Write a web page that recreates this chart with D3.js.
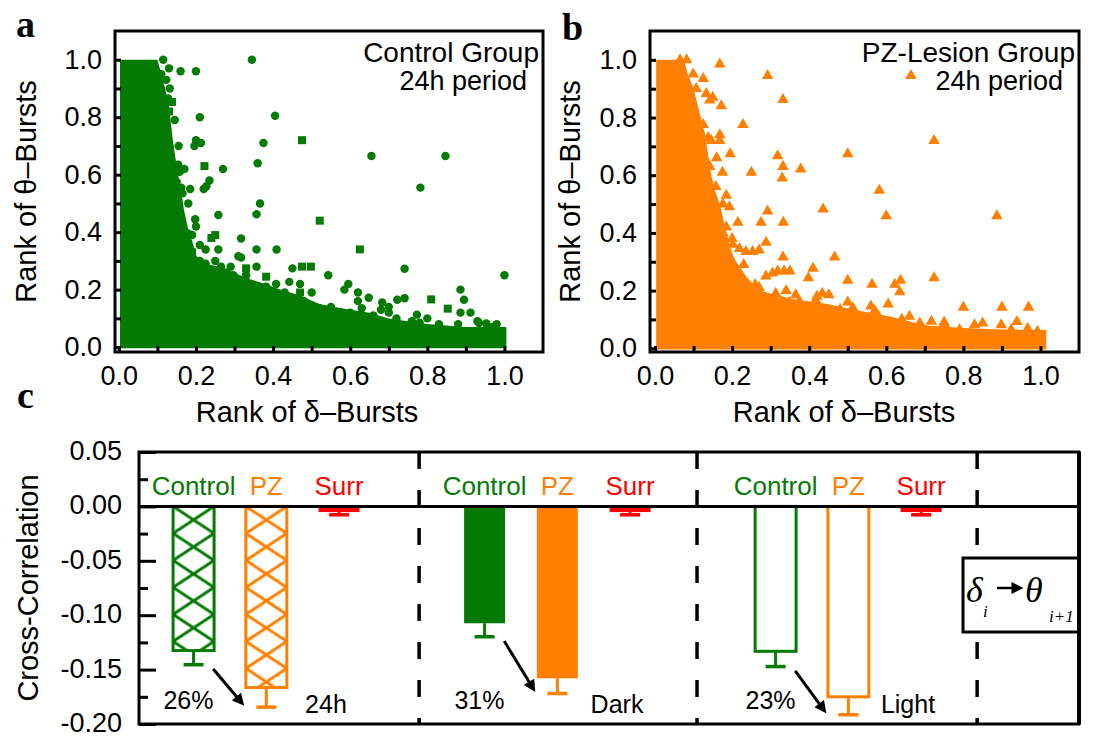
<!DOCTYPE html>
<html>
<head>
<meta charset="utf-8">
<script src="https://cdn.jsdelivr.net/npm/d3@7"></script>
<style>
  body { margin: 0; background: #fff; }
  svg { display: block; }
  text { font-family: "Liberation Sans", Arial, sans-serif; }
</style>
</head>
<body>
<div id="chart"></div>
<script>
// ---- panel a : control group, rank of delta vs rank of theta bursts ----
// top edge of the dense cloud [x, y]
const ctrlEnvelope = [
  [0.003, 1.0], [0.1, 1.0], [0.11, 0.95], [0.12, 0.9], [0.13, 0.84], [0.14, 0.72],
  [0.15, 0.63], [0.16, 0.55], [0.17, 0.47], [0.18, 0.41], [0.19, 0.37], [0.2, 0.32],
  [0.22, 0.29], [0.26, 0.28], [0.3, 0.26], [0.33, 0.24], [0.38, 0.22], [0.42, 0.2],
  [0.47, 0.18], [0.52, 0.15], [0.56, 0.14], [0.6, 0.13], [0.65, 0.12], [0.7, 0.1],
  [0.75, 0.09], [0.8, 0.08], [0.85, 0.075], [0.9, 0.07], [1.005, 0.07]
];
const ctrlCircles = [
  [0.115, 1.0], [0.13, 0.97], [0.16, 0.96], [0.2, 0.96], [0.345, 1.0], [0.21, 0.8],
  [0.405, 0.805], [0.375, 0.71], [0.2, 0.72], [0.196, 0.7], [0.213, 0.71], [0.655, 0.665],
  [0.847, 0.665], [0.36, 0.64], [0.27, 0.62], [0.235, 0.58], [0.227, 0.56], [0.22, 0.55],
  [0.782, 0.555], [0.18, 0.5], [0.366, 0.5], [0.357, 0.462], [0.258, 0.46], [0.198, 0.445],
  [0.18, 0.395], [0.19, 0.39], [0.317, 0.378], [0.21, 0.355], [0.258, 0.34], [0.357, 0.34],
  [0.409, 0.34], [0.317, 0.312], [0.741, 0.273], [0.357, 0.28], [0.45, 0.274], [0.543, 0.25],
  [1.0, 0.25], [0.595, 0.22], [0.886, 0.2], [0.585, 0.2], [0.62, 0.19], [0.741, 0.17],
  [0.722, 0.165], [0.895, 0.165], [0.886, 0.12], [0.912, 0.12], [0.773, 0.113], [0.7, 0.12],
  [0.683, 0.155], [0.648, 0.172], [0.953, 0.082], [0.934, 0.084], [0.88, 0.08], [0.47, 0.22],
  [0.442, 0.227], [0.408, 0.22], [0.382, 0.21], [0.356, 0.21], [0.497, 0.13], [0.45, 0.15],
  [0.425, 0.165], [0.4, 0.18], [0.31, 0.316], [0.29, 0.28], [0.265, 0.28], [0.297, 0.25],
  [0.33, 0.23], [0.265, 0.21], [0.21, 0.3], [0.184, 0.31], [0.175, 0.33], [0.132, 0.9],
  [0.123, 0.93], [0.11, 0.95], [0.097, 0.96], [0.09, 0.94], [0.128, 0.865], [0.115, 0.82],
  [0.132, 0.64], [0.154, 0.635], [0.158, 0.61], [0.14, 0.6], [0.123, 0.58], [0.15, 0.575],
  [0.162, 0.555], [0.165, 0.535], [0.14, 0.51], [0.154, 0.51], [0.123, 0.5], [0.132, 0.48],
  [0.158, 0.455], [0.14, 0.445], [0.136, 0.42], [0.123, 0.746], [0.102, 0.723], [0.115, 0.7],
  [0.11, 0.665], [0.106, 0.77], [0.119, 0.8], [0.158, 0.395], [0.175, 0.395],
  [0.6, 0.12], [0.66, 0.11], [0.72, 0.1], [0.78, 0.085], [0.83, 0.08], [0.97, 0.07],
  [0.55, 0.14], [0.52, 0.135], [0.63, 0.135], [0.68, 0.13], [0.76, 0.09], [0.24, 0.27],
  [0.28, 0.26], [0.33, 0.25], [0.38, 0.2], [0.43, 0.19], [0.48, 0.16], [0.225, 0.29], [0.25, 0.3],
  [0.145, 0.79], [0.155, 0.7], [0.17, 0.62], [0.185, 0.55], [0.2, 0.42], [0.225, 0.34],
  [0.62, 0.16], [0.7, 0.14], [0.8, 0.1], [0.93, 0.09], [0.98, 0.08], [0.5, 0.19]
];
const ctrlSquares = [
  [0.475, 0.72], [0.222, 0.63], [0.521, 0.44], [0.625, 0.34], [0.475, 0.28], [0.498, 0.28],
  [0.33, 0.274], [0.382, 0.245], [0.81, 0.166], [0.853, 0.134], [0.138, 0.853], [0.25, 0.39],
  [0.24, 0.38], [0.47, 0.19], [0.19, 0.33], [0.13, 0.82]
];

// ---- panel b : PZ-lesion group ----
const pzEnvelope = [
  [0.003, 1.0], [0.075, 1.0], [0.085, 0.95], [0.1, 0.9], [0.115, 0.82], [0.13, 0.74],
  [0.14, 0.65], [0.15, 0.57], [0.17, 0.49], [0.185, 0.4], [0.2, 0.33], [0.21, 0.3],
  [0.236, 0.25], [0.27, 0.2], [0.3, 0.19], [0.36, 0.17], [0.44, 0.155], [0.53, 0.13],
  [0.61, 0.11], [0.64, 0.1], [0.7, 0.08], [0.8, 0.07], [0.9, 0.065], [1.015, 0.063]
];
const pzTriangles = [
  [0.168, 0.985], [0.292, 0.945], [0.664, 0.945], [0.332, 0.862], [0.228, 0.775], [0.724, 0.72],
  [0.5, 0.674], [0.195, 0.674], [0.318, 0.667], [0.332, 0.63], [0.33, 0.59], [0.378, 0.621],
  [0.25, 0.61], [0.175, 0.61], [0.582, 0.547], [0.436, 0.482], [0.292, 0.475], [0.6, 0.459],
  [0.887, 0.459], [0.333, 0.436], [0.275, 0.436], [0.215, 0.436], [0.288, 0.367], [0.185, 0.53],
  [0.193, 0.49], [0.176, 0.5], [0.466, 0.316], [0.332, 0.316], [0.41, 0.277], [0.35, 0.267],
  [0.335, 0.267], [0.318, 0.267], [0.398, 0.244], [0.5, 0.235], [0.563, 0.221], [0.724, 0.244],
  [0.637, 0.235], [0.622, 0.221], [0.635, 0.195], [0.605, 0.153], [0.8, 0.142], [0.9, 0.142],
  [0.969, 0.142], [0.939, 0.092], [0.56, 0.146], [0.513, 0.14], [0.48, 0.135], [0.434, 0.19],
  [0.451, 0.185], [0.417, 0.167], [0.365, 0.185], [0.374, 0.163], [0.348, 0.158], [0.27, 0.34],
  [0.253, 0.335], [0.236, 0.335], [0.219, 0.345], [0.202, 0.36], [0.176, 0.4], [0.185, 0.42],
  [0.142, 0.445], [0.125, 0.46], [0.15, 0.4], [0.305, 0.26], [0.288, 0.25], [0.313, 0.19],
  [0.27, 0.21], [0.245, 0.19], [0.099, 0.95], [0.125, 0.935], [0.107, 0.9], [0.133, 0.883],
  [0.142, 0.86], [0.15, 0.87], [0.172, 0.84], [0.107, 0.79], [0.125, 0.775], [0.116, 0.752],
  [0.138, 0.73], [0.168, 0.74], [0.168, 0.72], [0.146, 0.72], [0.099, 0.677], [0.125, 0.665],
  [0.107, 0.63], [0.142, 0.63], [0.138, 0.585], [0.116, 0.56], [0.065, 1.0], [0.082, 1.0],
  [0.687, 0.087], [0.717, 0.093], [0.752, 0.081], [0.79, 0.064], [0.829, 0.081], [0.85, 0.087],
  [0.898, 0.081], [0.924, 0.064], [0.967, 0.069], [0.992, 0.058], [0.22, 0.26], [0.2, 0.3],
  [0.26, 0.22], [0.4, 0.14], [0.45, 0.13], [0.52, 0.12], [0.58, 0.11], [0.64, 0.1],
  [0.16, 0.66], [0.158, 0.56], [0.2, 0.38], [0.23, 0.29], [0.34, 0.2], [0.42, 0.18],
  [0.5, 0.16], [0.57, 0.13], [0.66, 0.11], [0.75, 0.09]
];

const rankTicks = [0, 0.1, 0.2, 0.3, 0.4, 0.5, 0.6, 0.7, 0.8, 0.9, 1.0];
const rankLabels = ["0.0", "", "0.2", "", "0.4", "", "0.6", "", "0.8", "", "1.0"];

// ---- panel c : cross-correlation delta_i -> theta_i+1 ----
const periods = ["24h", "Dark", "Light"];
const seriesNames = ["Control", "PZ", "Surr"];
const barPos = [1, 2, 3, 5, 6, 7, 9, 10, 11];
const barVals = [-0.1325, -0.1665, -0.0052, -0.1074, -0.158, -0.0052, -0.1332, -0.175, -0.0052];
const barErr = [0.013, 0.018, 0.0025, 0.0124, 0.014, 0.0025, 0.014, 0.0165, 0.0025];
const pctLabels = ["26%", "31%", "23%"];
const dividers = [4.1, 7.92, 11.77];
const corrTicks = [-0.2, -0.15, -0.1, -0.05, 0, 0.05];
const corrLabels = ["-0.20", "-0.15", "-0.10", "-0.05", "0.00", "0.05"];
const corrMinor = [-0.175, -0.125, -0.075, -0.025, 0.025];

const GREEN = "#057a05", ORANGE = "#ff8000", RED = "#ff0000";
const colors = [GREEN, ORANGE, RED];

const svg = d3.select("#chart").append("svg")
  .attr("width", 1093)
  .attr("height", 736);
const defs = svg.append("defs");

function styleAxis(g, fs) {
  g.select(".domain").remove();
  g.selectAll(".tick line").attr("stroke", "#000").attr("stroke-width", 3);
  g.selectAll(".tick text").attr("fill", "#000").style("font-size", fs + "px");
}

function scatterPanel(o) {
  let x = d3.scaleLinear().domain([o.x0, 1.1]).range([o.left, o.right]);
  let y = d3.scaleLinear().domain([o.y0, 1.1]).range([o.bottom, o.top]);
  let g = svg.append("g");

  // dense cloud
  g.append("path")
    .datum(o.env)
    .attr("fill", o.color)
    .attr("d", d3.area().x(d => x(d[0])).y0(y(-0.004)).y1(d => y(d[1])));

  // single points
  o.marks.forEach(m => {
    g.append("g").selectAll("path")
      .data(m.data)
      .enter()
      .append("path")
      .attr("transform", d => "translate(" + x(d[0]) + "," + y(d[1]) + ")")
      .attr("d", d3.symbol().type(m.type).size(m.size))
      .attr("fill", o.color);
  });

  let ax = g.append("g")
    .attr("transform", "translate(0," + o.bottom + ")")
    .call(d3.axisBottom(x).tickValues(rankTicks).tickSize(-6).tickPadding(14)
      .tickFormat((d, i) => rankLabels[i]));
  styleAxis(ax, 27);
  let ay = g.append("g")
    .attr("transform", "translate(" + o.left + ",0)")
    .call(d3.axisLeft(y).tickValues(rankTicks).tickSize(-6).tickPadding(13)
      .tickFormat((d, i) => rankLabels[i]));
  styleAxis(ay, 27);

  g.append("rect")
    .attr("x", o.left).attr("y", o.top)
    .attr("width", o.right - o.left).attr("height", o.bottom - o.top)
    .attr("fill", "none").attr("stroke", "#000").attr("stroke-width", 3);

  g.append("text")
    .attr("x", o.right - 4).attr("y", o.top + 31)
    .attr("text-anchor", "end").style("font-size", "28px")
    .text(o.title);
  g.append("text")
    .attr("x", o.right - 16).attr("y", o.top + 59)
    .attr("text-anchor", "end").style("font-size", "27px")
    .text("24h period");

  g.append("text")
    .attr("x", o.xTitleX).attr("y", 422)
    .attr("text-anchor", "middle").style("font-size", "29px")
    .text("Rank of δ–Bursts");
  g.append("text")
    .attr("transform", "translate(" + o.yTitleX + "," + (o.top + o.bottom) / 2 + ") rotate(-90)")
    .attr("dy", "0.35em")
    .attr("text-anchor", "middle").style("font-size", "29px")
    .text("Rank of θ–Bursts");
}

scatterPanel({
  left: 115, right: 543, top: 31, bottom: 352, x0: -0.01, y0: -0.017,
  color: GREEN, env: ctrlEnvelope, title: "Control Group",
  xTitleX: 307, yTitleX: 26,
  marks: [
    { data: ctrlCircles, type: d3.symbolCircle, size: 56 },
    { data: ctrlSquares, type: d3.symbolSquare, size: 64 }
  ]
});
scatterPanel({
  left: 650, right: 1079, top: 31, bottom: 352, x0: -0.013, y0: -0.013,
  color: ORANGE, env: pzEnvelope, title: "PZ-Lesion Group",
  xTitleX: 844, yTitleX: 570,
  marks: [{ data: pzTriangles, type: d3.symbolTriangle, size: 58 }]
});

// ---- bar panel ----
const cL = 139, cR = 1079, cT = 452, cB = 724;
const cx = d3.scaleLinear().domain([0.25, 13.17]).range([cL, cR]);
const cy = d3.scaleLinear().domain([-0.2, 0.05]).range([cB, cT]);
const bw = 41;
const gc = svg.append("g");

// dashed separators
gc.selectAll(".sep")
  .data(dividers)
  .enter()
  .append("line")
  .attr("x1", d => cx(d)).attr("x2", d => cx(d))
  .attr("y1", cT).attr("y2", cB)
  .attr("stroke", "#000").attr("stroke-width", 3.5)
  .attr("stroke-dasharray", "17,21");

// bars
barPos.forEach((p, i) => {
  let s = i % 3, grp = Math.floor(i / 3);
  let col = colors[s];
  let x0 = cx(p) - bw / 2;
  let yTop = cy(0), yBot = cy(barVals[i]);
  let r = gc.append("rect")
    .attr("x", x0).attr("y", yTop)
    .attr("width", bw).attr("height", yBot - yTop);
  if (s === 2 || grp === 1) {
    r.attr("fill", col);
  } else if (grp === 0) {
    let pid = "hatch" + i;
    let pat = defs.append("pattern")
      .attr("id", pid)
      .attr("patternUnits", "userSpaceOnUse")
      .attr("x", x0).attr("y", yTop)
      .attr("width", bw).attr("height", 27);
    pat.append("rect").attr("width", bw).attr("height", 27).attr("fill", "#fff");
    pat.append("path")
      .attr("d", "M0,0L" + bw + ",27M0,27L" + bw + ",0")
      .attr("stroke", col).attr("stroke-width", 3).attr("fill", "none");
    r.attr("fill", "url(#" + pid + ")")
      .attr("stroke", col).attr("stroke-width", 3);
  } else {
    r.attr("fill", "#fff").attr("stroke", col).attr("stroke-width", 3);
  }
  // lower error bar
  let ye = cy(barVals[i] - barErr[i]);
  gc.append("line")
    .attr("x1", cx(p)).attr("x2", cx(p)).attr("y1", yBot).attr("y2", ye)
    .attr("stroke", col).attr("stroke-width", 3);
  gc.append("line")
    .attr("x1", cx(p) - 10).attr("x2", cx(p) + 10).attr("y1", ye).attr("y2", ye)
    .attr("stroke", col).attr("stroke-width", 3.5);
  // series label
  gc.append("text")
    .attr("x", cx(p)).attr("y", cy(0.0101))
    .attr("text-anchor", "middle").attr("fill", col)
    .style("font-size", "26px")
    .text(seriesNames[s]);
});

// arrows and percentages
defs.append("marker")
  .attr("id", "head")
  .attr("viewBox", "0 0 10 10")
  .attr("refX", 5.4).attr("refY", 5)
  .attr("markerUnits", "userSpaceOnUse")
  .attr("markerWidth", 13).attr("markerHeight", 12)
  .attr("orient", "auto")
  .append("path").attr("d", "M0,0L10,5L0,10z").attr("fill", "#000");

periods.forEach((name, k) => {
  let ci = k * 3, pi = k * 3 + 1;
  let xs = cx(barPos[ci] + 0.27), ys = cy(barVals[ci] - barErr[ci] - 0.004);
  let xe = cx(barPos[pi] - 0.3), ye = cy(barVals[pi] - barErr[pi] + 0.001);
  let len = Math.hypot(xe - xs, ye - ys);
  gc.append("line")
    .attr("x1", xs).attr("y1", ys)
    .attr("x2", xe - (xe - xs) / len * 6).attr("y2", ye - (ye - ys) / len * 6)
    .attr("stroke", "#000").attr("stroke-width", 3)
    .attr("marker-end", "url(#head)");
  gc.append("text")
    .attr("x", cx(barPos[ci] - 0.07)).attr("y", cy(-0.1865))
    .attr("text-anchor", "middle").style("font-size", "25px")
    .text(pctLabels[k]);
  gc.append("text")
    .attr("x", cx(barPos[pi] + 0.82)).attr("y", cy(-0.19))
    .attr("text-anchor", "middle").style("font-size", "25px")
    .text(name);
});

// zero line
gc.append("line")
  .attr("x1", cL).attr("x2", cR).attr("y1", cy(0)).attr("y2", cy(0))
  .attr("stroke", "#000").attr("stroke-width", 3);

// y axis
let cay = gc.append("g")
  .attr("transform", "translate(" + cL + ",0)")
  .call(d3.axisLeft(cy).tickValues(corrTicks).tickSize(-17).tickPadding(17)
    .tickFormat((d, i) => corrLabels[i]));
styleAxis(cay, 27);
cay.selectAll(".tick text").attr("dy", "0.28em");
let cam = gc.append("g")
  .attr("transform", "translate(" + cL + ",0)")
  .call(d3.axisLeft(cy).tickValues(corrMinor).tickSize(-9).tickFormat(""));
styleAxis(cam, 27);

gc.append("rect")
  .attr("x", cL).attr("y", cT).attr("width", cR - cL).attr("height", cB - cT)
  .attr("fill", "none").attr("stroke", "#000").attr("stroke-width", 3);

gc.append("text")
  .attr("transform", "translate(28," + (cT + cB) / 2 + ") rotate(-90)")
  .attr("dy", "0.35em")
  .attr("text-anchor", "middle").style("font-size", "29px")
  .text("Cross-Correlation");

// delta_i -> theta_i+1 box
const box = gc.append("g");
box.append("rect")
  .attr("x", 963).attr("y", 558).attr("width", cR - 963).attr("height", 74)
  .attr("fill", "#fff").attr("stroke", "#000").attr("stroke-width", 3);
const serif = "'Liberation Serif', 'Times New Roman', serif";
box.append("text").attr("x", 966).attr("y", 602)
  .style("font-family", serif).style("font-style", "italic").style("font-size", "36px")
  .text("δ");
box.append("text").attr("x", 983).attr("y", 617)
  .style("font-family", serif).style("font-style", "italic").style("font-size", "17px")
  .text("i");
box.append("line")
  .attr("x1", 997).attr("y1", 588).attr("x2", 1018).attr("y2", 588)
  .attr("stroke", "#000").attr("stroke-width", 2.5)
  .attr("marker-end", "url(#head)");
box.append("text").attr("x", 1025).attr("y", 602)
  .style("font-family", serif).style("font-style", "italic").style("font-size", "36px")
  .text("θ");
box.append("text").attr("x", 1049).attr("y", 622)
  .style("font-family", serif).style("font-style", "italic").style("font-size", "17px")
  .text("i+1");
// re-stroke the frame edge over the box
gc.append("line")
  .attr("x1", cR).attr("x2", cR).attr("y1", cT).attr("y2", cB)
  .attr("stroke", "#000").attr("stroke-width", 4);

// panel letters
[["a", 16, 37], ["b", 562, 40], ["c", 17, 408]].forEach(l => {
  svg.append("text")
    .attr("x", l[1]).attr("y", l[2])
    .style("font-family", serif).style("font-weight", "bold").style("font-size", "38px")
    .text(l[0]);
});
</script>
</body>
</html>
